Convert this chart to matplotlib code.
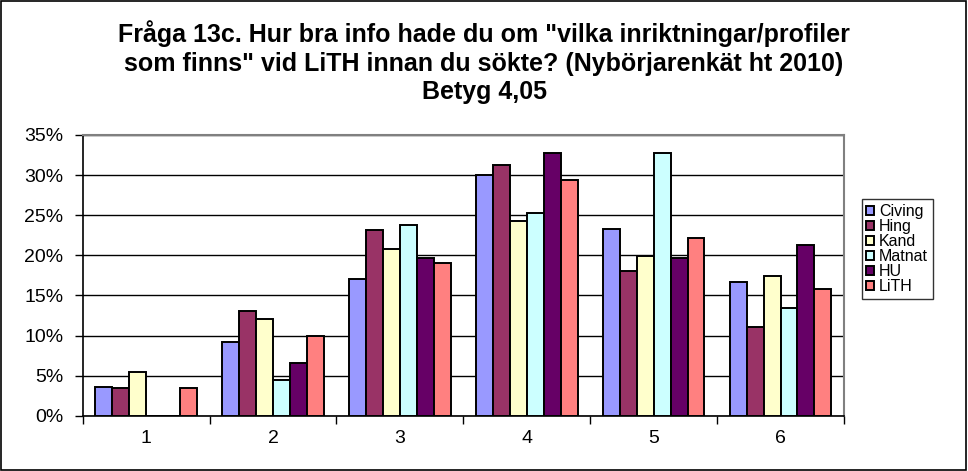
import matplotlib.pyplot as plt
import numpy as np

plt.rcParams['font.family'] = ['Liberation Sans', 'DejaVu Sans']

categories = ['1', '2', '3', '4', '5', '6']
series = ['Civing', 'Hing', 'Kand', 'Matnat', 'HU', 'LiTH']
civing = [3.6, 9.2, 17.1, 30.0, 23.3, 16.7]
hing = [3.4, 13.0, 23.2, 31.3, 18.1, 11.1]
kand = [5.4, 12.1, 20.8, 24.3, 19.9, 17.4]
matnat = [0.0, 4.5, 23.8, 25.3, 32.8, 13.4]
hu = [0.0, 6.6, 19.7, 32.8, 19.7, 21.3]
lith = [3.5, 9.9, 19.1, 29.4, 22.2, 15.8]
values = [civing, hing, kand, matnat, hu, lith]
colors = ['#9999FF', '#993366', '#FFFFCC', '#CCFFFF', '#660066', '#FF8080']

fig = plt.figure(figsize=(9.68, 4.71), dpi=100)
# outer chart border
fig.patches.append(plt.Rectangle((0.001, 0.002), 0.997, 0.996, transform=fig.transFigure,
                                 fill=False, edgecolor='black', linewidth=1.2))

ax = fig.add_axes([82.7 / 968, (471 - 415.7) / 471, (844 - 82.7) / 968, (415.7 - 135) / 471])

x = np.arange(len(categories))
bw = 1 / 7.5
for i, (name, vals) in enumerate(zip(series, values)):
    offs = (i - 2.5) * bw
    ax.bar(x + offs, vals, width=bw, color=colors[i], edgecolor='black', linewidth=1.4,
           label=name, zorder=3)

ax.set_xlim(-0.5, len(categories) - 0.5)
ax.set_ylim(0, 35)
ax.set_yticks(range(0, 36, 5))
ax.set_yticklabels([f'{v}%' for v in range(0, 36, 5)], fontsize=14)
ax.yaxis.grid(True, color='black', linewidth=1)
ax.set_axisbelow(True)

ax.set_xticks(x)
ax.set_xticklabels(categories, fontsize=14)
ax.tick_params(axis='x', which='major', length=0, pad=10)
ax.set_xticks(np.arange(-0.5, len(categories), 1), minor=True)
ax.tick_params(axis='x', which='minor', length=6, width=1, direction='out')
ax.tick_params(axis='y', length=6, width=1, direction='out', pad=8)

for s in ['top', 'right']:
    ax.spines[s].set_color('#808080')
    ax.spines[s].set_linewidth(1.5)
for s in ['left', 'bottom']:
    ax.spines[s].set_color('black')
    ax.spines[s].set_linewidth(1.2)

fig.text(0.5, 1 - 20 / 471, 'Fråga 13c. Hur bra info hade du om "vilka inriktningar/profiler\n'
         'som finns" vid LiTH innan du sökte? (Nybörjarenkät ht 2010)\nBetyg 4,05',
         ha='center', va='top', fontsize=18, fontweight='bold', linespacing=1.25)

leg = ax.legend(loc='upper left', bbox_to_anchor=(861.5 / 968, 1 - 199 / 471),
                bbox_transform=fig.transFigure, fontsize=11.5, frameon=True, fancybox=False,
                edgecolor='black', handlelength=0.5, handleheight=0.5, handletextpad=0.3,
                labelspacing=0.0, borderpad=0.3, borderaxespad=0)
leg.get_frame().set_linewidth(1)

fig.savefig('out.png', dpi=100)
